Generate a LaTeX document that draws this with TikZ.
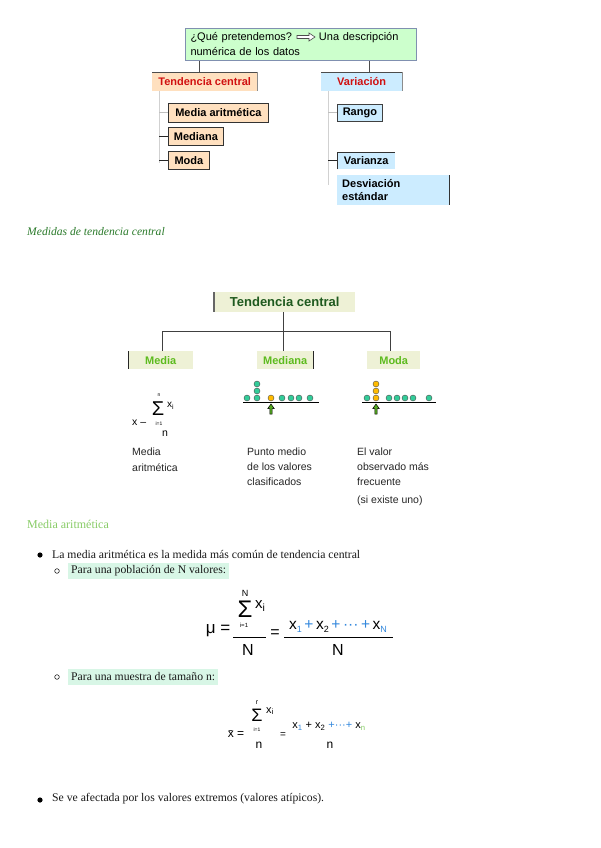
\documentclass[tikz,border=0pt]{standalone}
\usepackage{fontspec}
\setmainfont{Liberation Serif}
\newfontfamily\arial{Liberation Sans}
\usetikzlibrary{calc}
\definecolor{mainfill}{HTML}{CCFFCC}
\definecolor{mainborder}{HTML}{8090B0}
\definecolor{peach}{HTML}{FFE0BF}
\definecolor{lblue}{HTML}{CCECFF}
\definecolor{redtxt}{HTML}{D01010}
\definecolor{olive}{HTML}{EEF1D6}
\definecolor{dgreentxt}{HTML}{1F5A1F}
\definecolor{lgreentxt}{HTML}{5DBB1E}
\definecolor{dotgreen}{HTML}{33CC99}
\definecolor{dotyellow}{HTML}{FFBB00}
\definecolor{arrowgreen}{HTML}{55AA22}
\definecolor{titlegreen}{HTML}{2A7A2A}
\definecolor{headgreen}{HTML}{88CC66}
\definecolor{mint}{HTML}{D8F6E6}
\definecolor{fblue}{HTML}{3388DD}
\newcommand\fz[2]{\fontsize{#1}{#2}\selectfont}
\newcommand\sbs[2][black]{\raisebox{-3pt}{\fz{9}{10}\color{#1}#2}}
\begin{document}
\begin{tikzpicture}[x=1pt,y=-1pt,
 conn/.style={draw=black!70,line width=1pt},
 trunk/.style={draw=black!18,line width=1pt},
 tickd/.style={draw=black!85,line width=0.9pt},
 tickl/.style={draw=black!25,line width=0.9pt},
 hdrbox/.style={anchor=north west,inner sep=0pt,font=\arial\bfseries\fz{11}{13},text=redtxt},
 pbox/.style={anchor=north west,inner sep=0pt,fill=peach,draw=black!80,line width=0.8pt,font=\arial\bfseries\fz{11}{13}},
 bbox/.style={anchor=north west,inner sep=0pt,fill=lblue,font=\arial\bfseries\fz{11}{13}},
 obox/.style={anchor=north west,inner sep=0pt,fill=olive,font=\arial\bfseries\fz{11}{13},text=lgreentxt},
 edge2/.style={draw=black!75,line width=1pt},
 lbl/.style={anchor=base west,inner sep=0pt,font=\arial\fz{10.5}{13},text=black!85},
 fml/.style={inner sep=0pt,font=\arial},
 body/.style={anchor=west,inner sep=0pt,font=\fz{11.7}{14},text=black!90},
 dotg/.style={circle,fill=dotgreen,draw=black!70,line width=0.4pt,minimum size=6pt,inner sep=0pt},
 doty/.style={dotg,fill=dotyellow},
 uparrow/.style={fill=arrowgreen,draw=black,line width=0.5pt},
]
\path[use as bounding box,fill=white] (0,0) rectangle (600,848);

% ---------- top diagram ----------
\node[anchor=north west,draw=mainborder,fill=mainfill,line width=1pt,inner xsep=5pt,inner ysep=0pt,
      minimum width=231,minimum height=32,text width=221pt,align=left,font=\arial\fz{11}{15}]
      (q) at (185,28) {¿Qué pretendemos?\hspace*{27pt}Una descripción\\numérica de los datos};
\coordinate (qa) at ([xshift=112pt,yshift=-9pt]q.north west);
\draw[fill=white,draw=black!70,line width=0.6pt] (qa) ++(0,-1.5) -- ++(12,0) -- ++(0,-2.5) -- ++(6,4)
   -- ++(-6,4) -- ++(0,-2.5) -- ++(-12,0) -- cycle;

\node[hdrbox,fill=peach,minimum width=105,minimum height=19] (tc) at (152,72) {Tendencia central};
\draw[black!70,line width=0.8pt] (tc.north west) -- (tc.north east);
\draw[black!45,line width=0.8pt] (tc.north east) -- (tc.south east);
\node[hdrbox,fill=lblue,minimum width=81,minimum height=19] (va) at (321,72) {Variación};
\draw[black!70,line width=0.8pt] (va.north west) -- (va.north east);
\draw[black!45,line width=0.8pt] (va.north east) -- (va.south east);

\coordinate (tcTop) at ([xshift=47pt]tc.north west);
\draw[conn] (tcTop) -- (tcTop |- q.south);
\coordinate (vaTop) at ([xshift=48pt]va.north west);
\draw[conn] (vaTop) -- (vaTop |- q.south);

\node[pbox,minimum width=100,minimum height=19] (ma) at (168,103) {Media aritmética};
\node[pbox,minimum width=55,minimum height=18] (md) at (168,127) {Mediana};
\node[pbox,minimum width=41,minimum height=18] (mo) at (168,151) {Moda};

\coordinate (tcT) at ([xshift=7pt]tc.south west);
\coordinate (tcB) at (159,163);
\draw[trunk] (tcT) -- (tcB);
\draw[tickl] (ma.west -| tcT) -- (ma.west);
\draw[tickd] (md.west -| tcT) -- (md.west);
\draw[tickd] (mo.west -| tcT) -- (mo.west);

\node[bbox,draw=black!75,line width=0.8pt,minimum width=45,minimum height=17] (ra) at (337,104) {Rango};
\node[bbox,minimum width=58,minimum height=17] (vz) at (337,152) {Varianza};
\draw[black!80,line width=0.8pt] (vz.south west) -- (vz.north west) -- (vz.north east);
\node[bbox,minimum width=112,minimum height=30,text width=102pt,align=left,inner xsep=5pt] (de) at (337,175) {Desviación\\estándar};
\draw[black!80,line width=1pt] (de.north east) -- (de.south east);

\coordinate (vaT) at ([xshift=7pt]va.south west);
\coordinate (vaB) at (328,185);
\draw[trunk] (vaT) -- (vaB);
\draw[tickl] (ra.west -| vaT) -- (ra.west);
\draw[tickd] (vz.west -| vaT) -- (vz.west);

% ---------- heading ----------
\node[anchor=west,inner sep=0pt,font=\itshape\fz{11.6}{14},text=titlegreen] (h1) at (27,232) {Medidas de tendencia central};

% ---------- second diagram ----------
\node[anchor=north west,inner sep=0pt,fill=olive,minimum width=141,minimum height=20,
      font=\arial\bfseries\fz{13}{15},text=dgreentxt] (tc2) at (214,292) {Tendencia central};
\draw[black!60,line width=1.2pt] (tc2.north west) -- (tc2.south west);
\node[obox,minimum width=65,minimum height=18] (me2) at (128,351) {Media};
\draw[black!85,line width=1pt] (me2.north west) -- (me2.south west);
\node[obox,minimum width=56,minimum height=18] (md2) at (257,351) {Mediana};
\draw[black!85,line width=1pt] (md2.north east) -- (md2.south east);
\node[obox,minimum width=53,minimum height=18] (mo2) at (367,351) {Moda};

\coordinate (j1) at (162,331);
\coordinate (j2) at (283,331);
\coordinate (j3) at (390,331);
\draw[edge2] (j2 |- tc2.south) -- (j2);
\draw[edge2] (j1) -- (j3);
\draw[edge2] (j1) -- (j1 |- me2.north);
\draw[edge2] (j2) -- (j2 |- md2.north);
\draw[edge2] (j3) -- (j3 |- mo2.north);

% garbled mean formula
\node[fml,font=\arial\fz{10.5}{12},anchor=west] (f0a) at (132,423) {x –};
\node[fml,font=\arial\fz{5}{6}] (f0b) at (159,395) {n};
\node[fml,font=\arial\fz{20}{22}] (f0c) at (158,409) {Σ};
\node[fml,font=\arial\fz{10}{12},anchor=west] (f0d) at (167,406) {x\textsubscript{i}};
\node[fml,font=\arial\fz{5}{6}] (f0e) at (159,424) {i=1};
\node[fml,font=\arial\fz{10.5}{12}] (f0f) at (165,434) {n};

% dots: mediana
\draw[black,line width=1pt] (243,402) coordinate (mb1) -- (319,402) coordinate (mb2);
\foreach \x [count=\i] in {247,257,282,291,299,310} \node[dotg] (mdg\i) at (\x,398) {};
\node[dotg] (mdc1) at (257,391) {};
\node[dotg] (mdc2) at (257,384) {};
\node[doty] (mdy) at (271,398) {};
\coordinate (ar1) at (271,414);
\draw[uparrow] (ar1) ++(-1.2,0) -- ++(0,-5.5) -- ++(-2,0) -- ++(3.2,-4.5) -- ++(3.2,4.5) -- ++(-2,0) -- ++(0,5.5) -- cycle;

% dots: moda
\draw[black,line width=1pt] (362,402) coordinate (ob1) -- (436,402) coordinate (ob2);
\foreach \x [count=\i] in {367,389,397,405,413,429} \node[dotg] (mog\i) at (\x,398) {};
\node[doty] (moy1) at (376,398) {};
\node[doty] (moy2) at (376,391) {};
\node[doty] (moy3) at (376,384) {};
\coordinate (ar2) at (376,414);
\draw[uparrow] (ar2) ++(-1.2,0) -- ++(0,-5.5) -- ++(-2,0) -- ++(3.2,-4.5) -- ++(3.2,4.5) -- ++(-2,0) -- ++(0,5.5) -- cycle;

% labels
\node[lbl] (la1) at (132,455.5) {Media};
\node[lbl] (la2) at (132,471) {aritmética};
\node[lbl] (lb1) at (247,455.5) {Punto medio};
\node[lbl] (lb2) at (247,470.5) {de los valores};
\node[lbl] (lb3) at (247,485) {clasificados};
\node[lbl] (lc1) at (357,455.5) {El valor};
\node[lbl] (lc2) at (357,470.5) {observado más};
\node[lbl] (lc3) at (357,485) {frecuente};
\node[lbl] (lc4) at (357,503) {(si existe uno)};

% ---------- Media aritmetica section ----------
\node[anchor=west,inner sep=0pt,font=\fz{12}{14},text=headgreen] (h2) at (27,524) {Media aritmética};

\node[circle,fill=black,minimum size=5.2pt,inner sep=0pt] (bu1) at (40,555) {};
\node[body] (t1) at (52,554) {La media aritmética es la medida más común de tendencia central};
\node[circle,draw=black!85,line width=0.6pt,minimum size=4.6pt,inner sep=0pt] (sb1) at (57,571) {};
\node[body,fill=mint,inner xsep=3pt,minimum height=16] (t2) at (68,571) {Para una población de N valores:};

% mu formula
\node[fml,font=\arial\fz{17}{19}] (mu) at (218,631) {μ =};
\node[fml,font=\arial\fz{9}{10}] (muN) at (245,593) {N};
\node[fml,font=\arial\fz{24}{26}] (muS) at (245,609) {Σ};
\node[fml,font=\arial\fz{15}{17},anchor=west] (mux) at (255,606) {x\textsubscript{i}};
\node[fml,font=\arial\fz{6}{7}] (mui) at (244,625) {i=1};
\draw[black,line width=1pt] (233,637) coordinate (mf1) -- (266,637) coordinate (mf2);
\node[fml,font=\arial\fz{16}{18}] (muD) at (248,650) {N};
\node[fml,font=\arial\fz{16}{18}] (mueq) at (275,634) {=};
\node[fml,font=\arial\fz{15.5}{18}] (munum) at (338,627) {x\sbs[fblue]{1}\,{\color{fblue}+}\,x\sbs{2}\,{\color{fblue}+}\,{\color{fblue}···}\,{\color{fblue}+}\,x\sbs[fblue]{N}};
\draw[black,line width=1pt] (284,637) coordinate (mf3) -- (393,637) coordinate (mf4);
\node[fml,font=\arial\fz{16}{18}] (muD2) at (338,650) {N};

\node[circle,draw=black!85,line width=0.6pt,minimum size=4.6pt,inner sep=0pt] (sb2) at (57,677) {};
\node[body,fill=mint,inner xsep=3pt,minimum height=16] (t3) at (68,677) {Para una muestra de tamaño n:};

% xbar formula
\node[fml,font=\arial\fz{12}{14}] (xb) at (236,734) {\={x} =};
\node[fml,font=\arial\fz{7}{8}] (xbr) at (257,703) {r};
\node[fml,font=\arial\fz{18}{20}] (xbS) at (257,715) {Σ};
\node[fml,font=\arial\fz{11}{13},anchor=west] (xbx) at (266,711) {x\textsubscript{i}};
\node[fml,font=\arial\fz{5}{6}] (xbi) at (257,729.5) {i=1};
\node[fml,font=\arial\fz{12}{14}] (xbn) at (259,745) {n};
\node[fml,font=\arial\fz{10}{12}] (xbeq) at (283,735) {=};
\node[fml,font=\arial\fz{11}{13}] (xbnum) at (329,726) {x\textsubscript{\color{fblue}1} + x\textsubscript{2} {\color{fblue}+···+} x\textsubscript{\color{headgreen}n}};
\node[fml,font=\arial\fz{12}{14}] (xbn2) at (330,745) {n};

\node[circle,fill=black,minimum size=5.2pt,inner sep=0pt] (bu2) at (40,800) {};
\node[body] (t4) at (52,799) {Se ve afectada por los valores extremos (valores atípicos).};
\end{tikzpicture}
\end{document}
